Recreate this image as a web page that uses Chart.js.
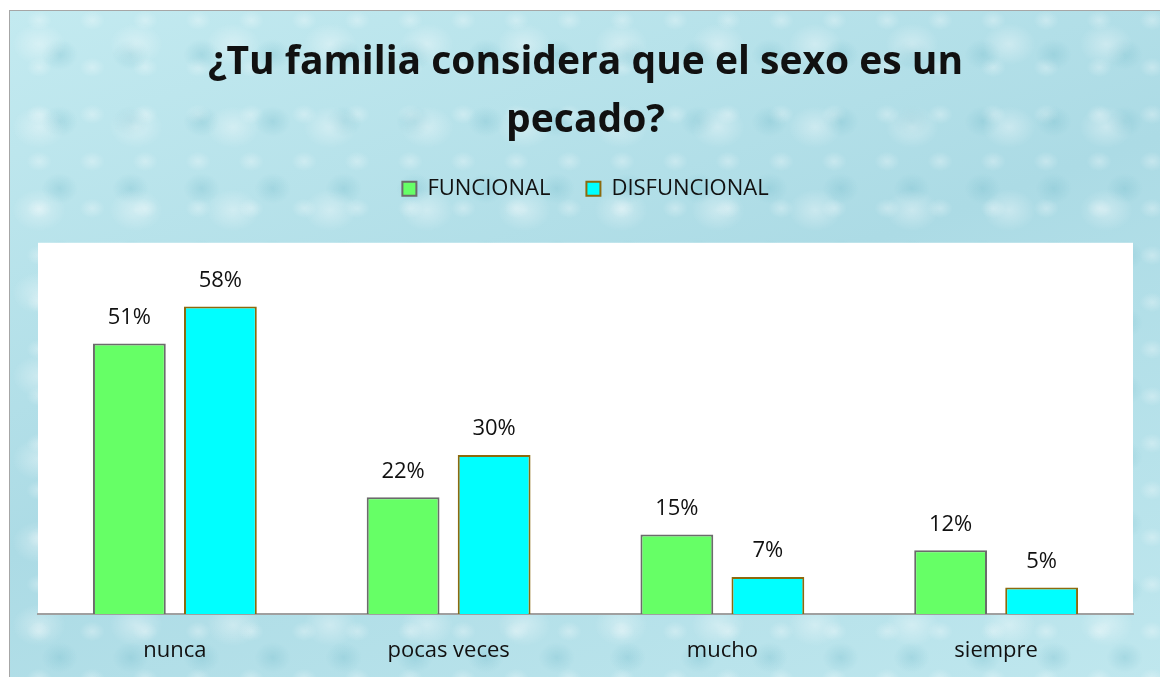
<!DOCTYPE html>
<html>
<head>
<meta charset="utf-8">
<script src="https://cdn.jsdelivr.net/npm/chart.js@4"></script>
<style>
  html, body { margin: 0; padding: 0; background: #fff; }
  #frame {
    position: absolute; left: 9px; top: 10px; width: 1151px; height: 667px;
    box-sizing: border-box; border-left: 1px solid #a6a6a6; border-top: 1px solid #a6a6a6;
    background-color: #b6e2ea;
    background-image:
      radial-gradient(ellipse 38px 30px at 30% 40%, rgba(255,255,255,0.35), rgba(255,255,255,0) 70%),
      radial-gradient(ellipse 26px 22px at 70% 65%, rgba(120,190,205,0.35), rgba(120,190,205,0) 70%),
      radial-gradient(ellipse 18px 14px at 55% 20%, rgba(255,255,255,0.3), rgba(255,255,255,0) 70%),
      linear-gradient(160deg, #c3eaf0 0%, #acdbe5 50%, #bfe7ee 100%);
    background-size: 97px 83px, 71px 67px, 53px 47px, 100% 100%;
  }
  canvas { display: block; }
</style>
</head>
<body>
<div id="frame"><canvas id="chart" width="1150" height="666"></canvas></div>
<script>
const categories = ['nunca', 'pocas veces', 'mucho', 'siempre'];
const funcional = [51, 22, 15, 12];
const disfuncional = [58, 30, 7, 5];
const seriesNames = ['FUNCIONAL', 'DISFUNCIONAL'];
const titleLines = ['¿Tu familia considera que el sexo es un', 'pecado?'];

const fontFamily = "'Open Sans', 'Liberation Sans', sans-serif";

// white plot area behind the bars
const plotBackground = {
    id: 'plotBackground',
    beforeDraw(chart) {
        const { ctx, chartArea } = chart;
        ctx.save();
        ctx.fillStyle = '#ffffff';
        ctx.fillRect(chartArea.left, chartArea.top, chartArea.right - chartArea.left, chartArea.bottom - chartArea.top);
        ctx.restore();
    }
};

// value labels above each bar
const valueLabels = {
    id: 'valueLabels',
    afterDatasetsDraw(chart) {
        const ctx = chart.ctx;
        ctx.save();
        ctx.font = '22px ' + fontFamily;
        ctx.fillStyle = '#111';
        ctx.textAlign = 'center';
        ctx.textBaseline = 'middle';
        chart.data.datasets.forEach((ds, i) => {
            chart.getDatasetMeta(i).data.forEach((bar, j) => {
                ctx.fillText(ds.data[j] + '%', bar.x, bar.y - 26);
            });
        });
        ctx.restore();
    }
};

// fixed legend block height, leaves room above the plot
const legendGap = {
    id: 'legendGap',
    beforeInit(chart) {
        const fit = chart.legend.fit;
        chart.legend.fit = function () {
            fit.bind(chart.legend)();
            this.height = 101;
        };
    }
};

new Chart(document.getElementById('chart'), {
    type: 'bar',
    data: {
        labels: categories,
        datasets: [
            {
                label: seriesNames[0],
                data: funcional,
                backgroundColor: '#66ff66',
                borderColor: '#6b6b6b',
                borderWidth: 2,
                borderSkipped: 'bottom'
            },
            {
                label: seriesNames[1],
                data: disfuncional,
                backgroundColor: '#00ffff',
                borderColor: '#8c6a0e',
                borderWidth: 2,
                borderSkipped: 'bottom'
            }
        ]
    },
    options: {
        responsive: false,
        animation: false,
        categoryPercentage: 0.665,
        barPercentage: 0.8,
        layout: { padding: { left: 28, right: 27, top: 0, bottom: 0 } },
        plugins: {
            title: {
                display: true,
                text: titleLines,
                color: '#111',
                font: { family: fontFamily, size: 39, weight: 'bold', lineHeight: 1.51 },
                padding: { top: 22, bottom: -9 }
            },
            legend: {
                display: true,
                labels: {
                    color: '#111',
                    font: { family: fontFamily, size: 22 },
                    boxWidth: 14,
                    boxHeight: 14,
                    padding: 36
                }
            },
            tooltip: { enabled: false }
        },
        scales: {
            x: {
                grid: { display: false },
                border: { display: true, color: '#a0a0a0', width: 2 },
                ticks: { color: '#111', font: { family: fontFamily, size: 22 }, padding: 16 },
                afterFit(scale) { scale.height = 63; }
            },
            y: {
                display: false,
                min: 0,
                max: 70
            }
        }
    },
    plugins: [plotBackground, valueLabels, legendGap]
});
</script>
</body>
</html>
